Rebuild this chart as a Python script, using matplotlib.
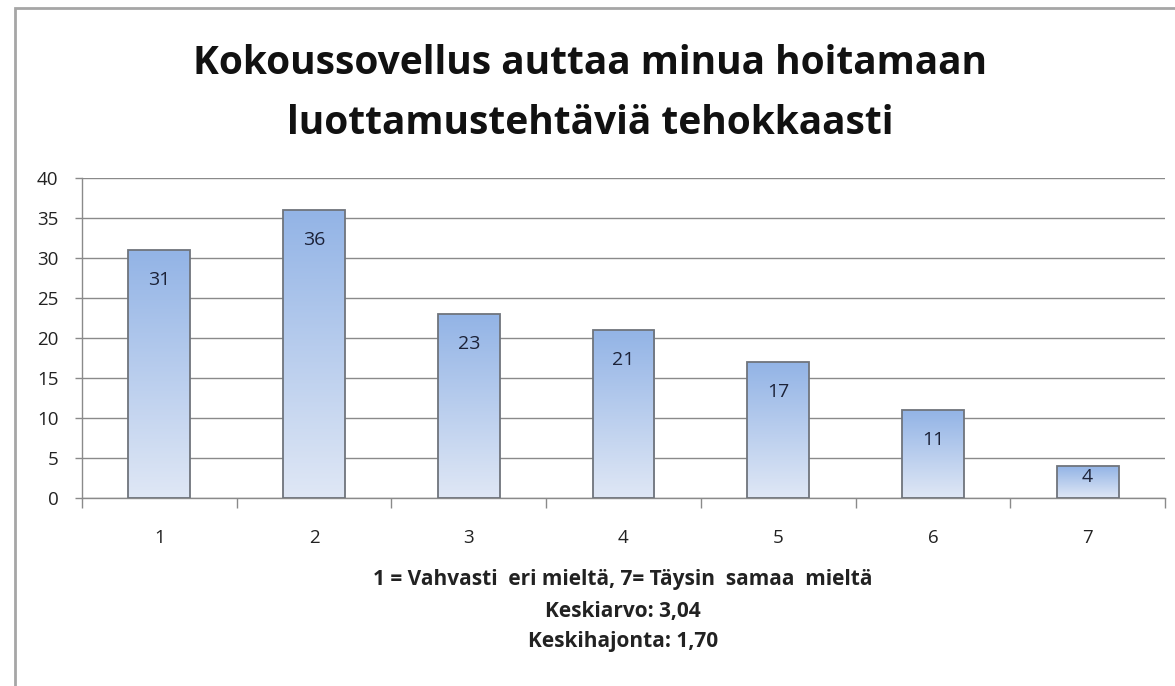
import numpy as np
import matplotlib.pyplot as plt
from matplotlib.colors import LinearSegmentedColormap
from matplotlib.patches import Rectangle

# survey answers on a 1..7 scale
categories = ['1', '2', '3', '4', '5', '6', '7']
counts = [31, 36, 23, 21, 17, 11, 4]
title_lines = ['Kokoussovellus auttaa minua hoitamaan', 'luottamustehtäviä tehokkaasti']
footer_lines = ['1 = Vahvasti  eri mieltä, 7= Täysin  samaa  mieltä',
                'Keskiarvo: 3,04',
                'Keskihajonta: 1,70']
y_ticks = [0, 5, 10, 15, 20, 25, 30, 35, 40]

FONT = ['Open Sans', 'DejaVu Sans']
plt.rcParams['font.family'] = FONT

W, H = 1175, 686
fig = plt.figure(figsize=(W / 100, H / 100), dpi=100)
fig.patch.set_facecolor('white')

# chart frame (right and bottom edges fall outside the picture)
fig.patches.append(Rectangle((15 / W, -0.1), 1.2, 1 - 8 / H + 0.1, transform=fig.transFigure,
                             fill=False, edgecolor='#a6a6a6', linewidth=2, zorder=0))

ax = fig.add_axes([82 / W, 1 - 498 / H, (1165 - 82) / W, (498 - 178) / H])
ax.set_facecolor('none')

grad = LinearSegmentedColormap.from_list('bar', ['#dfe7f5', '#93b4e6'])
x = np.arange(len(categories))
bar_w = 0.40
for xi, v in zip(x, counts):
    ax.imshow(np.linspace(0, 1, 100).reshape(-1, 1), cmap=grad, origin='lower', aspect='auto',
              extent=(xi - bar_w / 2, xi + bar_w / 2, 0, v), zorder=2)
    ax.add_patch(Rectangle((xi - bar_w / 2, 0), bar_w, v, fill=False, edgecolor='#6f747c',
                           linewidth=1.3, zorder=3))
    ly = v - 3.8 if v > 8 else v - 1.4
    ax.text(xi, ly, str(v), ha='center', va='center', fontsize=14, color='#1c2238', zorder=4)

ax.set_xlim(-0.5, len(categories) - 0.5)
ax.set_ylim(0, 40)
ax.set_yticks(y_ticks)
ax.yaxis.grid(True, color='#8a8a8a', linewidth=1)
ax.set_axisbelow(True)
ax.tick_params(axis='y', length=5, width=1, color='#8a8a8a', pad=12, labelsize=13.5, labelcolor='#222222')

ax.set_xticks(x)
ax.set_xticklabels(categories)
ax.set_xticks(np.arange(len(categories) + 1) - 0.5, minor=True)
ax.tick_params(axis='x', which='major', length=0, pad=22, labelsize=13.5, labelcolor='#222222')
ax.tick_params(axis='x', which='minor', length=7, width=1, color='#8a8a8a')

for s in ['top', 'right']:
    ax.spines[s].set_visible(False)
for s in ['left', 'bottom']:
    ax.spines[s].set_color('#8a8a8a')
    ax.spines[s].set_linewidth(1)

fig.text(590 / W, 1 - 63 / H, title_lines[0], ha='center', va='center', fontsize=28,
         fontweight='bold', color='#111111')
fig.text(590 / W, 1 - 123 / H, title_lines[1], ha='center', va='center', fontsize=28,
         fontweight='bold', color='#111111')

for i, line in enumerate(footer_lines):
    fig.text(623 / W, 1 - (580 + 31 * i) / H, line, ha='center', va='center', fontsize=15,
             fontweight='bold', color='#222222')

fig.savefig('out.png', dpi=100)
